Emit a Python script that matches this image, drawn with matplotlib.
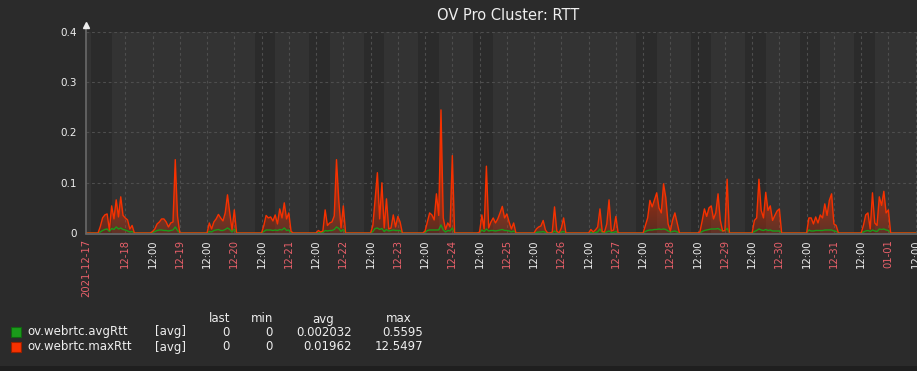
import numpy as np
import matplotlib
matplotlib.use('Agg')
import matplotlib.pyplot as plt
from matplotlib.patches import Rectangle


W, H = 917, 371 # output size in pixels

# time axis is in hours counted from 2021-12-17 00:00
t_start = 6.83
t_end = 372.6

date_labels = ['2021-12-17', '12-18', '12-19', '12-20', '12-21', '12-22', '12-23', '12-24',
               '12-25', '12-26', '12-27', '12-28', '12-29', '12-30', '12-31', '01-01']
noon_label = '12:00'
work_days = [0, 3, 4, 5, 6, 7, 10, 11, 12, 13, 14] # day index from 12-17, Mon-Fri 09:00-18:00

y_ticks = [0, 0.1, 0.2, 0.3, 0.4]
y_labels = ['0', '0.1', '0.2', '0.3', '0.4']

# hourly values, one burst of activity per day (start hour of each burst)
burst_start = [13, 36, 60, 84, 109, 133, 156, 180, 205, 229, 252, 277, 301, 325, 349]

max_rtt = [
    [0.013, 0.030, 0.036, 0.038, 0.006, 0.054, 0.028, 0.066, 0.032, 0.072, 0.035, 0.030, 0.026, 0.008, 0.015, 0],
    [0.003, 0.008, 0.018, 0.022, 0.028, 0.028, 0.022, 0.012, 0.020, 0.022, 0.146, 0.033, 0],
    [0, 0.020, 0.008, 0.022, 0.028, 0.037, 0.030, 0.024, 0.040, 0.076, 0.040, 0.006, 0.046, 0],
    [0, 0.015, 0.035, 0.030, 0.032, 0.024, 0.036, 0.018, 0.048, 0.030, 0.060, 0.028, 0.040, 0.003],
    [0.005, 0.002, 0.004, 0.046, 0.015, 0.020, 0.022, 0.034, 0.146, 0.065, 0.010, 0.054, 0],
    [0.015, 0.068, 0.120, 0.028, 0.100, 0.010, 0.068, 0.008, 0.010, 0.036, 0.012, 0.033, 0.022, 0],
    [0.004, 0.022, 0.040, 0.036, 0.026, 0.078, 0.035, 0.245, 0.030, 0.007, 0.020, 0.012, 0.154, 0],
    [0.002, 0.036, 0.008, 0.133, 0.010, 0.022, 0.030, 0.020, 0.028, 0.040, 0.053, 0.030, 0.038, 0.022, 0.008, 0.020, 0],
    [0.008, 0.012, 0.014, 0.025, 0.006, 0, 0, 0.002, 0.052, 0.004, 0, 0.010, 0.030, 0],
    [0.007, 0.002, 0.006, 0.012, 0.048, 0.003, 0.002, 0.018, 0.066, 0.004, 0.006, 0.033, 0],
    [0, 0.015, 0.030, 0.065, 0.052, 0.066, 0.080, 0.050, 0.040, 0.098, 0.070, 0.018, 0.004, 0.026, 0.040, 0.020, 0],
    [0.002, 0.024, 0.048, 0.033, 0.050, 0.054, 0.028, 0.040, 0.078, 0.025, 0.004, 0.005, 0.107, 0],
    [0.025, 0.030, 0.107, 0.045, 0.030, 0.081, 0.045, 0.054, 0.025, 0.035, 0.044, 0.048, 0],
    [0.030, 0.030, 0.018, 0.032, 0.020, 0.036, 0.030, 0.058, 0.035, 0.065, 0.078, 0.018, 0.015, 0],
    [0.015, 0.036, 0.040, 0.008, 0.080, 0.020, 0.015, 0.072, 0.055, 0.083, 0.040, 0.046, 0],
]

avg_rtt = [
    [0.002, 0.005, 0.007, 0.008, 0.003, 0.009, 0.007, 0.012, 0.008, 0.010, 0.007, 0.006, 0.004, 0.002, 0.003, 0],
    [0.001, 0.003, 0.005, 0.006, 0.006, 0.005, 0.005, 0.004, 0.005, 0.006, 0.012, 0.005, 0],
    [0, 0.003, 0.002, 0.005, 0.006, 0.007, 0.005, 0.005, 0.007, 0.010, 0.007, 0.002, 0.008, 0],
    [0, 0.003, 0.006, 0.006, 0.006, 0.005, 0.006, 0.005, 0.007, 0.006, 0.010, 0.005, 0.006, 0],
    [0.001, 0.000, 0.001, 0.005, 0.004, 0.005, 0.005, 0.007, 0.012, 0.009, 0.003, 0.007, 0],
    [0.003, 0.009, 0.010, 0.007, 0.009, 0.003, 0.007, 0.004, 0.005, 0.006, 0.005, 0.005, 0.005, 0],
    [0.001, 0.005, 0.006, 0.006, 0.006, 0.006, 0.006, 0.016, 0.006, 0.002, 0.005, 0.004, 0.010, 0],
    [0.001, 0.006, 0.003, 0.008, 0.004, 0.005, 0.005, 0.004, 0.005, 0.006, 0.007, 0.005, 0.005, 0.004, 0.002, 0.004, 0],
    [0.001, 0.002, 0.002, 0.003, 0.001, 0, 0, 0, 0.004, 0.001, 0, 0.002, 0.003, 0],
    [0.001, 0, 0.001, 0.002, 0.008, 0.001, 0, 0.002, 0.004, 0.001, 0.001, 0.003, 0],
    [0, 0.003, 0.005, 0.006, 0.006, 0.007, 0.007, 0.008, 0.007, 0.008, 0.007, 0.004, 0.002, 0.003, 0.004, 0.002, 0],
    [0, 0.003, 0.005, 0.006, 0.007, 0.008, 0.008, 0.008, 0.009, 0.006, 0.004, 0.005, 0.009, 0],
    [0.003, 0.005, 0.008, 0.006, 0.005, 0.007, 0.005, 0.006, 0.004, 0.004, 0.004, 0.004, 0],
    [0.006, 0.004, 0.004, 0.005, 0.005, 0.005, 0.005, 0.006, 0.006, 0.006, 0.006, 0.004, 0.003, 0],
    [0.002, 0.004, 0.005, 0.003, 0.006, 0.004, 0.003, 0.008, 0.007, 0.008, 0.006, 0.005, 0],
]

legend_names = ['ov.webrtc.avgRtt', 'ov.webrtc.maxRtt']
legend_func = ['[avg]', '[avg]']
legend_last = ['0', '0']
legend_min = ['0', '0']
legend_avg = ['0.002032', '0.01962']
legend_max = ['0.5595', '12.5497']

title = 'OV Pro Cluster: RTT'

# colours
bg = '#2b2b2b'
plot_bg = '#333333'
work_bg = '#2b2b2b'
grid_col = '#4e4e4e'
red = '#f63100'
green = '#1a9c1a'
date_col = '#e8606a'
text_col = '#eeeeee'


# put the bursts into one hourly series
hours = np.concatenate([[t_start], np.arange(7, 373)]).astype(float)
max_series = np.zeros(len(hours))
avg_series = np.zeros(len(hours))
for s, mv, av in zip(burst_start, max_rtt, avg_rtt):
    i = np.searchsorted(hours, s)
    max_series[i:i + len(mv)] = mv
    avg_series[i:i + len(av)] = av


def fx(px):
    return px / W

def fy(py):
    return 1 - py / H


fig = plt.figure(figsize=(W / 100, H / 100), dpi=100, facecolor=bg)
ax = fig.add_axes([fx(86.3), fy(233), fx(917 - 86.3), (233 - 32) / H])
ax.set_facecolor(plot_bg)

# working hours are drawn darker
for d in work_days:
    ax.axvspan(d * 24 + 9, d * 24 + 18, color=work_bg, lw=0, zorder=0)

# x ticks: start date, then midnights (dates) and noons
tick_pos = [t_start]
tick_lab = [date_labels[0]]
tick_col = [date_col]
for d in range(1, 16):
    tick_pos += [d * 24 - 12, d * 24] if d > 1 else [d * 24]
    tick_lab += [noon_label, date_labels[d]] if d > 1 else [date_labels[d]]
    tick_col += [text_col, date_col] if d > 1 else [date_col]
tick_pos.append(372)
tick_lab.append(noon_label)
tick_col.append(text_col)

ax.set_xticks(tick_pos, tick_lab, rotation=90, fontsize=7.2, va='top', ha='center')
for lab, c in zip(ax.get_xticklabels(), tick_col):
    lab.set_color(c)
ax.set_yticks(y_ticks, y_labels, fontsize=7.5, color=text_col)
ax.tick_params(axis='x', length=0, pad=4.5)
ax.tick_params(axis='y', length=0, pad=6.5)

# dashed grid (skip the one on the axis itself)
for t in tick_pos[1:]:
    ax.axvline(t, color=grid_col, lw=0.8, ls=(0, (2.5, 2.5)), zorder=1)
for y in y_ticks[1:]:
    ax.axhline(y, color=grid_col, lw=0.8, ls=(0, (2.5, 2.5)), zorder=1)

for sp in ax.spines.values():
    sp.set_visible(False)

# gradient fill under the max line
poly = ax.fill_between(hours, 0, max_series, color='none', lw=0)
grad = np.zeros((256, 1, 4))
grad[:, 0, 0], grad[:, 0, 1], grad[:, 0, 2] = 0.96, 0.19, 0.0
grad[:, 0, 3] = np.clip(0.25 + np.linspace(0, 0.4, 256) / 0.2 * 0.7, 0, 0.95)
im = ax.imshow(grad, extent=[t_start, t_end, 0, 0.4], origin='lower', aspect='auto', zorder=2)
im.set_clip_path(poly.get_paths()[0], transform=ax.transData)

ax.plot(hours, avg_series, color=green, lw=1.0, zorder=3)
ax.plot(hours, max_series, color=red, lw=1.0, zorder=4)

ax.set_xlim(t_start, t_end)
ax.set_ylim(0, 0.4)

# axis lines + arrow on top of the y axis
ax.plot([t_start, t_start], [0, 0.413], color='#6a6a6a', lw=1.2, clip_on=False, zorder=5)
ax.plot([t_start], [0.413], marker='^', ms=4, color='#eeeeee', clip_on=False, zorder=6)
ax.plot([t_start, t_end], [-0.0025, -0.0025], color='#6a6a6a', lw=1.2, clip_on=False, zorder=1)

fig.text(fx(508.5), fy(15), title, fontsize=10.5, color=text_col, ha='center', va='center')

# legend table
fs = 8.5
fig.text(fx(230), fy(319), 'last', fontsize=fs, color=text_col, ha='right', va='center')
fig.text(fx(273), fy(319), 'min', fontsize=fs, color=text_col, ha='right', va='center')
fig.text(fx(334), fy(319), 'avg', fontsize=fs, color=text_col, ha='right', va='center')
fig.text(fx(412), fy(319), 'max', fontsize=fs, color=text_col, ha='right', va='center')
row_y = [332, 347]
row_col = [(green, '#116611'), (red, '#992000')]
for i in range(2):
    y = row_y[i]
    fig.patches.append(Rectangle((fx(11), fy(y + 5)), 10 / W, 10 / H, transform=fig.transFigure,
                                 facecolor=row_col[i][0], edgecolor=row_col[i][1], lw=0.8))
    fig.text(fx(27), fy(y), legend_names[i], fontsize=fs, color=text_col, ha='left', va='center')
    fig.text(fx(155), fy(y), legend_func[i], fontsize=fs, color=text_col, ha='left', va='center')
    fig.text(fx(230), fy(y), legend_last[i], fontsize=fs, color=text_col, ha='right', va='center')
    fig.text(fx(273), fy(y), legend_min[i], fontsize=fs, color=text_col, ha='right', va='center')
    fig.text(fx(352), fy(y), legend_avg[i], fontsize=fs, color=text_col, ha='right', va='center')
    fig.text(fx(423), fy(y), legend_max[i], fontsize=fs, color=text_col, ha='right', va='center')

# darker strip at the very bottom
fig.patches.append(Rectangle((0, 0), 1, 5 / H, transform=fig.transFigure, facecolor='#1f1f1f', lw=0))

fig.savefig('out.png', dpi=100, facecolor=bg)
